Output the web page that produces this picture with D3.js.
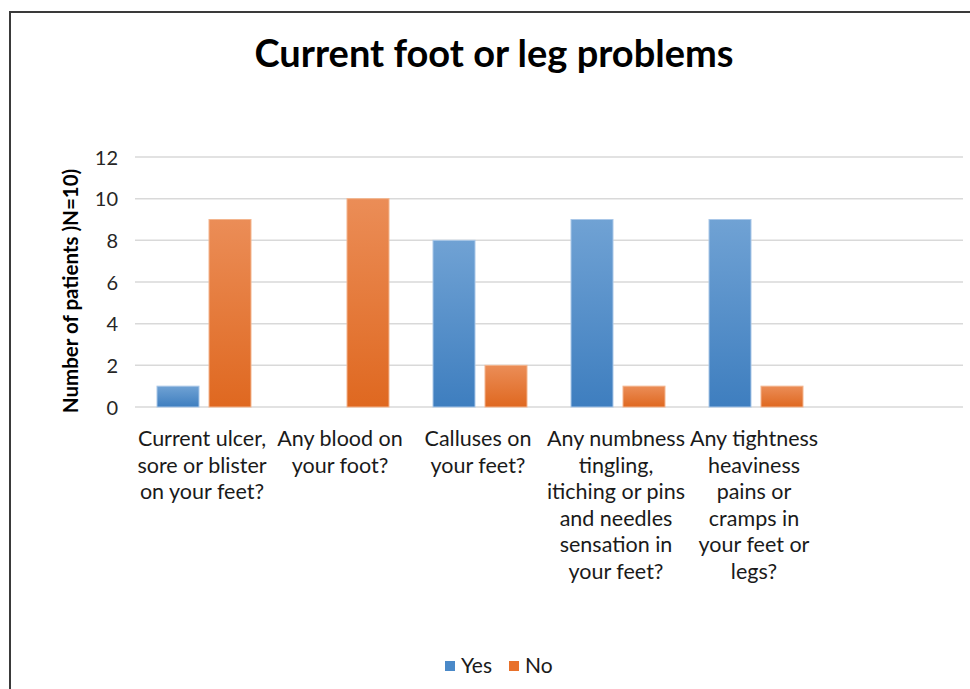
<!DOCTYPE html>
<html><head><meta charset="utf-8">
<script src="https://cdn.jsdelivr.net/npm/d3@7/dist/d3.min.js"></script>
<style>body{margin:0;background:#fff}svg{display:block}</style>
</head><body>
<svg id="c" width="970" height="689"></svg>
<script>
const categories = [
  "Current ulcer, sore or blister on your feet?",
  "Any blood on your foot?",
  "Calluses on your feet?",
  "Any numbness tingling, itiching or pins and needles sensation in your feet?",
  "Any tightness heaviness pains or cramps in your feet or legs?",
  ""
];
const categoryLines = [
  ["Current ulcer,", "sore or blister", "on your feet?"],
  ["Any blood on", "your foot?"],
  ["Calluses on", "your feet?"],
  ["Any numbness", "tingling,", "itiching or pins", "and needles", "sensation in", "your feet?"],
  ["Any tightness", "heaviness", "pains or", "cramps in", "your feet or", "legs?"],
  []
];
const series = ["Yes", "No"];
const yesValues = [1, 0, 8, 9, 9, null];
const noValues  = [9, 10, 2, 1, 1, null];
const yTicks = [0, 2, 4, 6, 8, 10, 12];
const title = "Current foot or leg problems";
const yTitle = "Number of patients )N=10)";

const font = "Lato, 'Open Sans', sans-serif";
const svg = d3.select("#c");

// frame
svg.append("line").attr("x1",10).attr("x2",970).attr("y1",12).attr("y2",12).attr("stroke","#3a3a3a").attr("stroke-width",2);
svg.append("line").attr("x1",10).attr("x2",10).attr("y1",11).attr("y2",689).attr("stroke","#3a3a3a").attr("stroke-width",2);

const defs = svg.append("defs");
const grads = {
  Yes: ["#70a2d4", "#3e7ebf"],
  No:  ["#eb8d57", "#df6820"]
};
series.forEach(s => {
  const g = defs.append("linearGradient").attr("id","g"+s).attr("x1",0).attr("x2",0).attr("y1",0).attr("y2",1);
  g.append("stop").attr("offset","0%").attr("stop-color",grads[s][0]);
  g.append("stop").attr("offset","100%").attr("stop-color",grads[s][1]);
});

const x0 = d3.scaleBand().domain(d3.range(categories.length)).range([135, 963]).padding(0);
const x1 = d3.scaleBand().domain(series).range([22, 116]).paddingInner(0.1923).paddingOuter(0);
const y = d3.scaleLinear().domain([0, 12]).range([407, 157]);

// gridlines
svg.append("g").selectAll("line").data(yTicks).join("line")
  .attr("x1", 135).attr("x2", 963)
  .attr("y1", d => y(d)).attr("y2", d => y(d))
  .attr("stroke", "#d9d9d9").attr("stroke-width", 1.5);

// y axis labels
const yAxis = d3.axisLeft(y).tickValues(yTicks).tickSize(0).tickPadding(0);
const ya = svg.append("g").attr("transform","translate(118,0)").call(yAxis);
ya.select(".domain").remove();
ya.selectAll("text").attr("font-family",font).attr("font-size",20).attr("fill","#262626").attr("dy","0.35em");

// bars
const data = [];
categories.forEach((c,i) => {
  if (yesValues[i] !== null) data.push({i, s:"Yes", v:yesValues[i]});
  if (noValues[i] !== null) data.push({i, s:"No", v:noValues[i]});
});
svg.append("g").selectAll("rect").data(data.filter(d=>d.v>0)).join("rect")
  .attr("x", d => x0(d.i) + x1(d.s))
  .attr("width", x1.bandwidth())
  .attr("y", d => y(d.v))
  .attr("height", d => y(0) - y(d.v))
  .attr("fill", d => "url(#g"+d.s+")")
  .attr("stroke", d => d.s==="Yes" ? "#a9c7e8" : "#f3b58e")
  .attr("stroke-width", 1);

// category labels
const cl = svg.append("g");
categoryLines.forEach((lines, i) => {
  const cx = x0(i) + x0.bandwidth()/2 - 2;
  const t = cl.append("text").attr("text-anchor","middle").attr("font-family",font).attr("font-size",21.5).attr("fill","#1a1a1a");
  lines.forEach((ln, k) => {
    t.append("tspan").attr("x", cx).attr("y", 446 + k*26.6).text(ln);
  });
});

// title
svg.append("text").attr("x", 494).attr("y", 67).attr("text-anchor","middle")
  .attr("font-family",font).attr("font-weight","bold").attr("font-size",38).attr("fill","#000").text(title);

// y title
svg.append("text").attr("transform","translate(78,291) rotate(-90)").attr("text-anchor","middle")
  .attr("font-family",font).attr("font-weight","bold").attr("font-size",20.5).attr("fill","#000").text(yTitle);

// legend
const lg = svg.append("g");
const legX = [445, 509];
series.forEach((s,k) => {
  lg.append("rect").attr("x", legX[k]).attr("y", 661).attr("width",10).attr("height",10).attr("fill", s==="Yes" ? "#4a89c8" : "#e8712b");
  lg.append("text").attr("x", legX[k]+16).attr("y", 673).attr("font-family",font).attr("font-size",21).attr("fill","#1a1a1a").text(s);
});
</script>
</body></html>
